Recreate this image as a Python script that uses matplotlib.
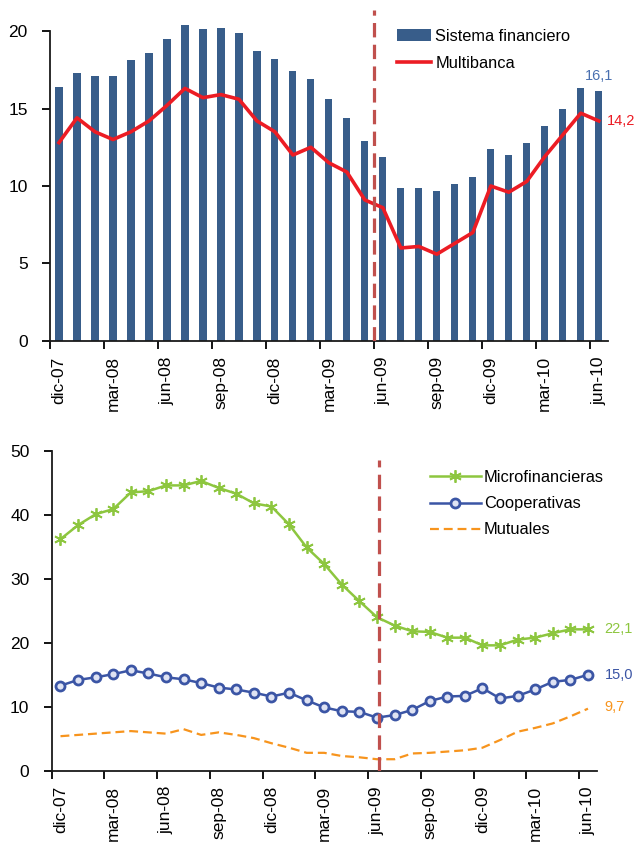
import matplotlib
matplotlib.use("Agg")
import matplotlib.pyplot as plt
import numpy as np

plt.rcParams["font.family"] = ["Liberation Sans", "DejaVu Sans"]

# monthly categories dic-07 .. jun-10
months = ["dic-07", "ene-08", "feb-08", "mar-08", "abr-08", "may-08", "jun-08",
          "jul-08", "ago-08", "sep-08", "oct-08", "nov-08", "dic-08", "ene-09",
          "feb-09", "mar-09", "abr-09", "may-09", "jun-09", "jul-09", "ago-09",
          "sep-09", "oct-09", "nov-09", "dic-09", "ene-10", "feb-10", "mar-10",
          "abr-10", "may-10", "jun-10"]

sistema = [16.4, 17.3, 17.1, 17.1, 18.1, 18.6, 19.5, 20.4, 20.1, 20.2, 19.9,
           18.7, 18.2, 17.4, 16.9, 15.6, 14.4, 12.9, 11.9, 9.9, 9.9, 9.7, 10.1,
           10.6, 12.4, 12.0, 12.8, 13.9, 15.0, 16.3, 16.1]
multibanca = [12.8, 14.4, 13.5, 13.0, 13.5, 14.2, 15.2, 16.3, 15.7, 15.9, 15.6,
              14.2, 13.5, 12.0, 12.5, 11.5, 10.9, 9.1, 8.6, 6.0, 6.1, 5.6, 6.3,
              7.0, 10.0, 9.6, 10.3, 11.9, 13.3, 14.7, 14.2]

microfin = [36.2, 38.4, 40.1, 40.9, 43.5, 43.7, 44.6, 44.6, 45.3, 44.2, 43.3,
            41.8, 41.3, 38.5, 34.9, 32.3, 29.1, 26.5, 24.0, 22.7, 21.8, 21.7,
            20.8, 20.8, 19.6, 19.6, 20.5, 20.8, 21.5, 22.1, 22.1]
cooperativas = [13.3, 14.2, 14.6, 15.1, 15.7, 15.2, 14.6, 14.3, 13.7, 13.0, 12.7,
                12.2, 11.6, 12.2, 11.0, 9.9, 9.3, 9.2, 8.3, 8.7, 9.5, 10.9, 11.6,
                11.7, 12.9, 11.3, 11.7, 12.7, 13.9, 14.2, 15.0]
mutuales = [5.4, 5.6, 5.8, 6.0, 6.2, 6.0, 5.8, 6.5, 5.6, 6.0, 5.6, 5.1, 4.3, 3.6,
            2.8, 2.8, 2.3, 2.1, 1.8, 1.8, 2.7, 2.8, 3.0, 3.2, 3.6, 4.8, 6.1, 6.7,
            7.4, 8.5, 9.7]

BAR_BLUE = "#385d8a"
RED = "#ec1c24"
VLINE = "#c0504d"
GREEN = "#8dc63f"
COOP_BLUE = "#3b55a5"
ORANGE = "#f7941d"
TICK_FS = 12.5
LEG_FS = 11.8
ANN_FS = 10.5


def style_axis(ax, ymax_tick, n):
    x = np.arange(n)
    ax.spines["top"].set_visible(False)
    ax.spines["right"].set_visible(False)
    ax.spines["left"].set_bounds(0, ymax_tick)
    for s in ("left", "bottom"):
        ax.spines[s].set_linewidth(1.3)
        ax.spines[s].set_color("#1a1a1a")
    ax.set_xlim(-0.5, n - 0.5)
    # ticks on boundaries, labels on category centers
    ax.set_xticks(np.arange(-0.5, n - 0.5, 3))
    ax.set_xticklabels([])
    ax.set_xticks(x[::3], minor=True)
    ax.set_xticklabels([months[i] for i in x[::3]], minor=True, rotation=90,
                       fontsize=TICK_FS)
    ax.tick_params(axis="x", which="major", length=6, width=1.3, direction="out")
    ax.tick_params(axis="x", which="minor", length=0, pad=11)
    ax.tick_params(axis="y", length=6, width=1.3, labelsize=TICK_FS, pad=10)


fig = plt.figure(figsize=(6.36, 8.44), dpi=100)
x = np.arange(len(months))

# top panel
ax1 = fig.add_axes([0.0786, 0.596, 0.877, 0.392])
bars = ax1.bar(x, sistema, width=0.4, color=BAR_BLUE, label="Sistema financiero",
               zorder=2)
line, = ax1.plot(x, multibanca, color=RED, lw=2.6, label="Multibanca", zorder=3,
                 solid_joinstyle="round")
ax1.axvline(17.5, color=VLINE, lw=2.3, dashes=(4.5, 2.3), zorder=4)
ax1.set_ylim(0, 21.35)
ax1.set_yticks([0, 5, 10, 15, 20])
style_axis(ax1, 20, len(months))
ax1.legend([bars, line], ["Sistema financiero", "Multibanca"], loc="upper left",
           bbox_to_anchor=(0.595, 0.988), frameon=False, fontsize=LEG_FS,
           handlelength=2.1, handletextpad=0.25, labelspacing=0.73)
ax1.annotate("16,1", (x[-1], sistema[-1]), xytext=(0, 6),
             textcoords="offset points", ha="center", va="bottom",
             color="#4a70b0", fontsize=ANN_FS)
ax1.annotate("14,2", (x[-1], multibanca[-1]), xytext=(5.5, 0),
             textcoords="offset points", ha="left", va="center",
             color=RED, fontsize=ANN_FS, annotation_clip=False)

# bottom panel
ax2 = fig.add_axes([0.0813, 0.0868, 0.857, 0.379])
ax2.plot(x, microfin, color=GREEN, lw=1.8, marker=(6, 2, 0), ms=9, mew=1.3,
         label="Microfinancieras", zorder=3)
ax2.plot(x, cooperativas, color=COOP_BLUE, lw=1.8, marker="o", ms=6.5, mew=2,
         mfc="#dfe3f3", label="Cooperativas", zorder=3)
ax2.plot(x, mutuales, color=ORANGE, lw=1.6, dashes=(4, 2.2), label="Mutuales",
         zorder=3)
ax2.axvline(18.1, ymax=0.97, color=VLINE, lw=2.3, dashes=(4.5, 2.3), zorder=4)
ax2.set_ylim(0, 50)
ax2.set_yticks([0, 10, 20, 30, 40, 50])
style_axis(ax2, 50, len(months))
ax2.legend(loc="upper left", bbox_to_anchor=(0.667, 0.986), frameon=False,
           fontsize=LEG_FS, handlelength=3.1, handletextpad=0.2,
           labelspacing=0.68)
ax2.annotate("22,1", (x[-1], microfin[-1]), xytext=(12, 0),
             textcoords="offset points", ha="left", va="center",
             color=GREEN, fontsize=ANN_FS, annotation_clip=False)
ax2.annotate("15,0", (x[-1], cooperativas[-1]), xytext=(12, 0),
             textcoords="offset points", ha="left", va="center",
             color=COOP_BLUE, fontsize=ANN_FS, annotation_clip=False)
ax2.annotate("9,7", (x[-1], mutuales[-1]), xytext=(12, 1),
             textcoords="offset points", ha="left", va="center",
             color=ORANGE, fontsize=ANN_FS, annotation_clip=False)

fig.savefig("out.png", dpi=100)
